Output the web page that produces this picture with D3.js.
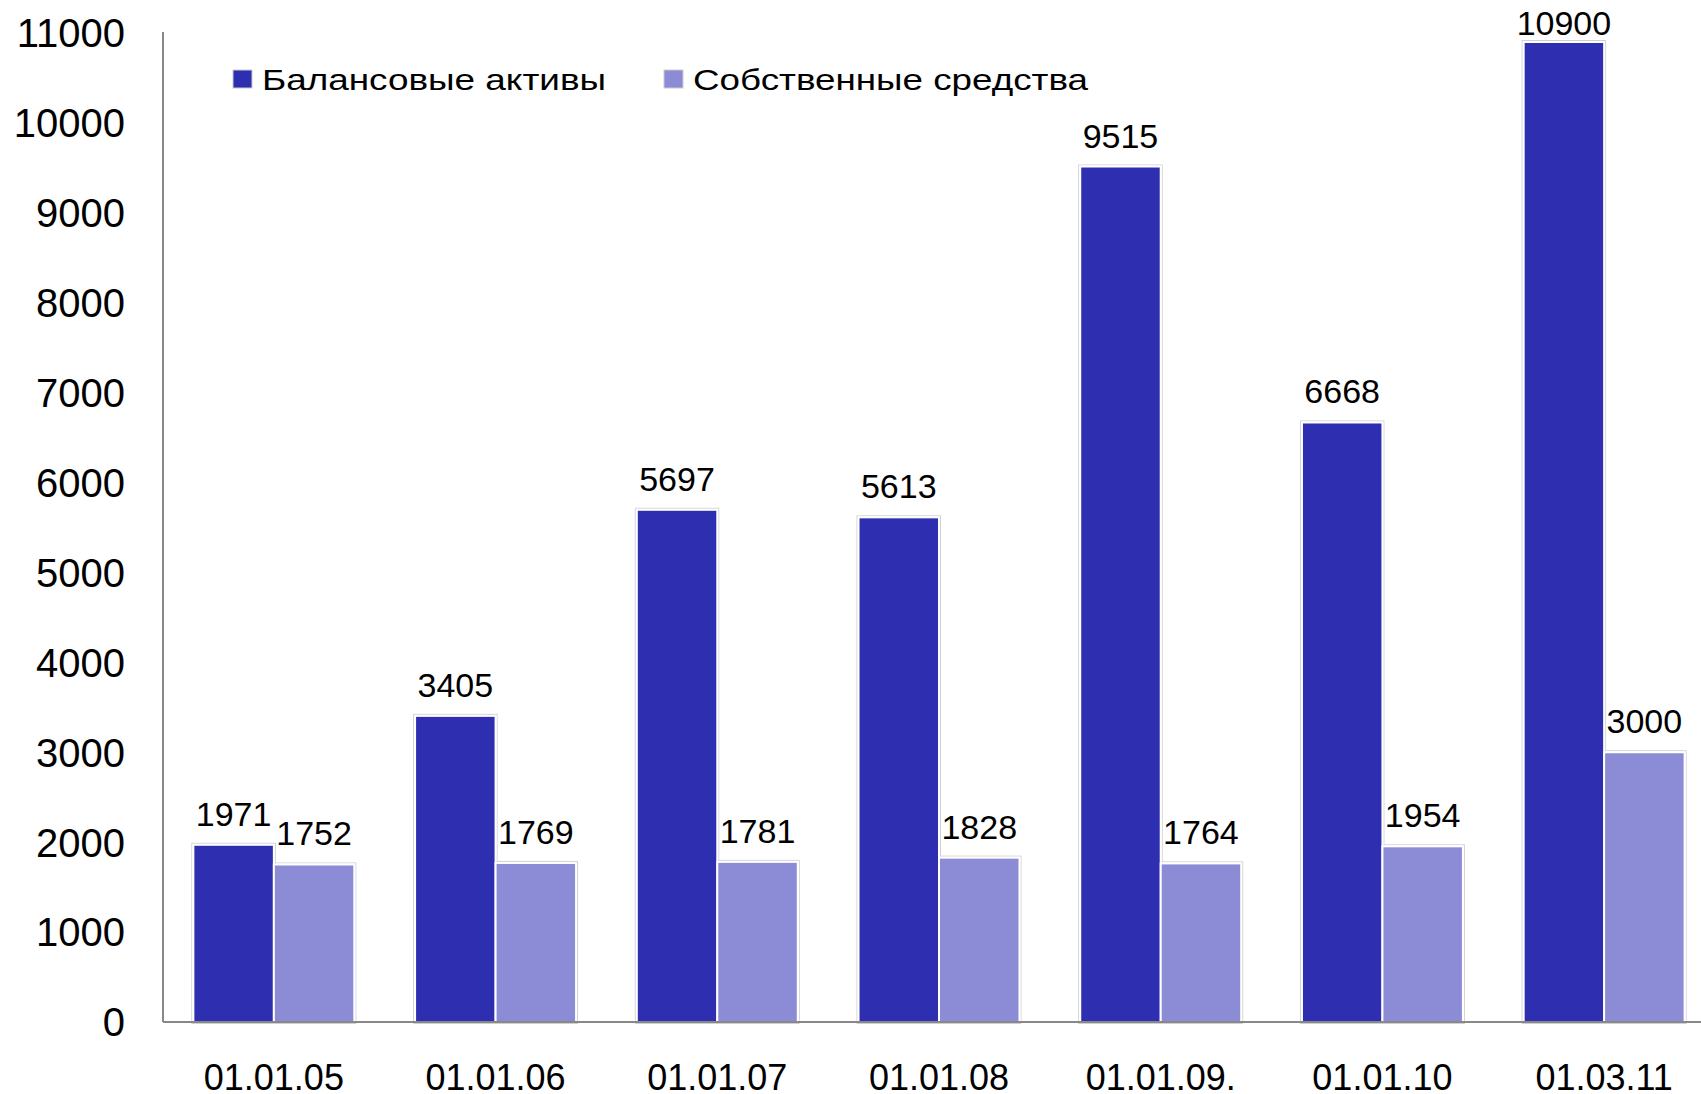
<!doctype html>
<html lang="ru">
<head>
  <meta charset="UTF-8">
  <title>Активы</title>
  <script src="https://cdn.jsdelivr.net/npm/d3@7"></script>
  <style>
    body { margin: 0; background: #fff; }
    text { font-family: "Liberation Sans", Arial, sans-serif; fill: #000; }
  </style>
</head>
<body>
<div id="container"></div>
<script type="text/javascript">
var dates = ['01.01.05', '01.01.06', '01.01.07', '01.01.08', '01.01.09.', '01.01.10', '01.03.11'];
var assets = [1971, 3405, 5697, 5613, 9515, 6668, 10900];
var equity = [1752, 1769, 1781, 1828, 1764, 1954, 3000];
var seriesNames = ['Балансовые активы', 'Собственные средства'];
var seriesColors = ['#2e2eb0', '#8b8bd6'];
var yTicks = [0, 1000, 2000, 3000, 4000, 5000, 6000, 7000, 8000, 9000, 10000, 11000];

var width = 1701, height = 1094;
var plotLeft = 163, baseY = 1022, topY = 33;

var svg = d3.select('#container').append('svg')
  .attr('width', width)
  .attr('height', height);

var x = d3.scaleBand()
  .domain(dates)
  .range([plotLeft, 1715])
  .paddingInner(0.274)
  .paddingOuter(0.137);

var x1 = d3.scaleBand()
  .domain([0, 1])
  .range([0, x.bandwidth()]);

var y = d3.scaleLinear()
  .domain([0, 11000])
  .range([baseY, topY]);

// y labels, no tick marks
svg.append('g').selectAll('text')
  .data(yTicks)
  .enter().append('text')
  .attr('x', 125)
  .attr('y', function(d) { return y(d); })
  .attr('dy', '0.36em')
  .attr('text-anchor', 'end')
  .style('font-size', '40px')
  .text(function(d) { return d; });

var rows = dates.map(function(d, i) {
  return { date: d, values: [assets[i], equity[i]] };
});

var groups = svg.selectAll('.group')
  .data(rows)
  .enter().append('g')
  .attr('class', 'group')
  .attr('transform', function(d) { return 'translate(' + x(d.date) + ',0)'; });

var bars = groups.selectAll('.bar')
  .data(function(d) { return d.values.map(function(v, s) { return { v: v, s: s }; }); })
  .enter();

// faint shadow outline
bars.append('rect')
  .attr('x', function(d) { return x1(d.s) - 1.5; })
  .attr('y', function(d) { return y(d.v) - 1.5; })
  .attr('width', x1.bandwidth() + 3)
  .attr('height', function(d) { return baseY - y(d.v) + 3; })
  .attr('fill', 'none')
  .attr('stroke', '#d0d0d0')
  .attr('stroke-width', 1);

bars.append('rect')
  .attr('class', 'bar')
  .attr('x', function(d) { return x1(d.s); })
  .attr('y', function(d) { return y(d.v); })
  .attr('width', x1.bandwidth())
  .attr('height', function(d) { return baseY - y(d.v); })
  .attr('fill', function(d) { return seriesColors[d.s]; })
  .attr('stroke', '#fff')
  .attr('stroke-width', 2);

// value labels, kept inside the top edge
bars.append('text')
  .attr('x', function(d) { return x1(d.s) + x1.bandwidth() / 2; })
  .attr('y', function(d) { return Math.max(y(d.v) - 19, 35); })
  .attr('text-anchor', 'middle')
  .style('font-size', '34px')
  .text(function(d) { return d.v; });

// axis lines
svg.append('line')
  .attr('x1', plotLeft).attr('x2', plotLeft)
  .attr('y1', 32).attr('y2', baseY)
  .attr('stroke', '#888').attr('stroke-width', 2);
svg.append('line')
  .attr('x1', plotLeft).attr('x2', width)
  .attr('y1', baseY).attr('y2', baseY)
  .attr('stroke', '#888').attr('stroke-width', 2);

// category labels
svg.append('g').selectAll('text')
  .data(dates)
  .enter().append('text')
  .attr('x', function(d) { return x(d) + x.bandwidth() / 2; })
  .attr('y', 1090)
  .attr('text-anchor', 'middle')
  .style('font-size', '36px')
  .text(function(d) { return d; });

// legend
var legendX = [233, 664];
var legendW = [344, 395];
var legend = svg.selectAll('.legend')
  .data(seriesNames)
  .enter().append('g')
  .attr('class', 'legend')
  .attr('transform', function(d, i) { return 'translate(' + legendX[i] + ',70)'; });

legend.append('rect')
  .attr('width', 19)
  .attr('height', 18)
  .attr('fill', function(d, i) { return seriesColors[i]; })
  .attr('stroke', '#ccc')
  .attr('stroke-width', 1);

legend.append('text')
  .attr('x', 29)
  .attr('y', 20)
  .attr('textLength', function(d, i) { return legendW[i]; })
  .attr('lengthAdjust', 'spacingAndGlyphs')
  .style('font-size', '30px')
  .text(function(d) { return d; });
</script>
</body>
</html>
